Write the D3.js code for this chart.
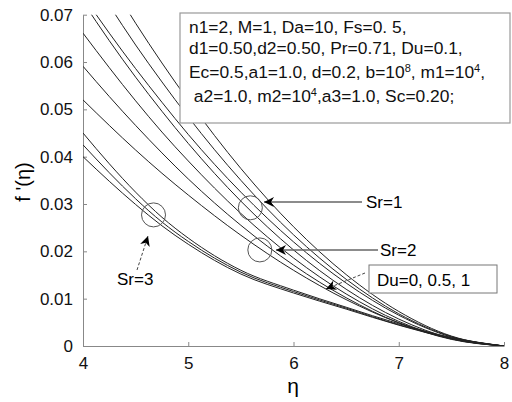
<!DOCTYPE html>
<html><head><meta charset="utf-8">
<script src="https://cdn.jsdelivr.net/npm/d3@7"></script>
<style>
body{margin:0;background:#fff;}
text{font-family:"Liberation Sans",Arial,sans-serif;}
</style></head>
<body><svg id="c" width="512" height="402"></svg>
<script>
// ---- data ----
const etaGrid = [4, 4.25, 4.5, 4.75, 5, 5.5, 6, 6.5, 7, 7.5, 8];
const curveU1 = [0.0865,0.0772,0.0682,0.0598,0.0519,0.0375,0.0252,0.0151,0.0073,0.0021,0];
const curveU2 = [0.0807,0.0720,0.0636,0.0558,0.0484,0.0350,0.0235,0.0141,0.0068,0.0020,0];
const curveU3 = [0.0740,0.0661,0.0586,0.0515,0.0447,0.0325,0.0220,0.0133,0.0065,0.0019,0];
const curveU4 = [0.0727,0.0645,0.0568,0.0496,0.0428,0.0306,0.0203,0.0120,0.0057,0.0016,0];
const curveU5 = [0.0661,0.0588,0.0518,0.0452,0.0391,0.0280,0.0186,0.0110,0.0052,0.0015,0];
const curveU6 = [0.0591,0.0527,0.0466,0.0408,0.0353,0.0255,0.0171,0.0102,0.0049,0.0014,0];
const curveU7 = [0.0520,0.0466,0.0414,0.0365,0.0319,0.0234,0.0160,0.0098,0.0049,0.0015,0];
const curveS3a = [0.0450,0.0385,0.0325,0.0272,0.0228,0.0160,0.0118,0.0082,0.0047,0.0018,0];
const curveS3b = [0.0425,0.0366,0.0311,0.0262,0.0221,0.0156,0.0115,0.0080,0.0045,0.0017,0];
const curveS3c = [0.0400,0.0348,0.0299,0.0254,0.0215,0.0152,0.0112,0.0078,0.0044,0.0016,0];
const allCurves = [curveU1,curveU2,curveU3,curveU4,curveU5,curveU6,curveU7,curveS3a,curveS3b,curveS3c];
const xTicks = [4,5,6,7,8];
const yTicks = [0,0.01,0.02,0.03,0.04,0.05,0.06,0.07];
const yTickLabels = ["0","0.01","0.02","0.03","0.04","0.05","0.06","0.07"];
const srCircles = [{eta:5.59,f:0.0292},{eta:5.68,f:0.0203},{eta:4.67,f:0.0277}];
const infoLines = [
  "n1=2, M=1, Da=10, Fs=0. 5,",
  "d1=0.50,d2=0.50, Pr=0.71, Du=0.1,",
  "Ec=0.5,a1=1.0, d=0.2, b=10^8^, m1=10^4^,",
  " a2=1.0, m2=10^4^,a3=1.0, Sc=0.20;"
];

// ---- drawing ----
const FONT = "Liberation Sans, Arial, sans-serif";
const svg = d3.select("#c");
const x = d3.scaleLinear().domain([4,8]).range([83,504]);
const y = d3.scaleLinear().domain([0,0.07]).range([346,14.7]);

const defs = svg.append("defs");
defs.append("clipPath").attr("id","clip")
  .append("rect").attr("x",83).attr("y",14.7).attr("width",421).attr("height",331.3);
const mk = defs.append("marker").attr("id","ah").attr("viewBox","0 0 10 10")
  .attr("refX",10).attr("refY",5).attr("markerWidth",17).attr("markerHeight",10)
  .attr("markerUnits","userSpaceOnUse").attr("orient","auto");
mk.append("path").attr("d","M0,0 L10,5 L0,10 L3,5 Z").attr("fill","#000");

// axes
const xAxis = d3.axisBottom(x).tickValues(xTicks).tickSizeInner(-4).tickSizeOuter(0).tickPadding(11).tickFormat(d3.format("d"));
const yAxis = d3.axisLeft(y).tickValues(yTicks).tickSizeInner(-4).tickSizeOuter(0).tickPadding(10)
  .tickFormat((d,i)=>yTickLabels[i]);
const gx = svg.append("g").attr("transform","translate(0,346)").call(xAxis);
const gy = svg.append("g").attr("transform","translate(83,0)").call(yAxis);
[gx,gy].forEach(g=>{
  g.select(".domain").attr("stroke","#888");
  g.selectAll(".tick line").attr("stroke","#888");
  g.selectAll(".tick text").attr("font-size",17).attr("fill","#111").attr("font-family",FONT);
});

// curves
const line = d3.line().x((d,i)=>x(etaGrid[i])).y(d=>y(d)).curve(d3.curveMonotoneX);
svg.append("g").attr("clip-path","url(#clip)").selectAll("path").data(allCurves).join("path")
  .attr("d",line).attr("fill","none").attr("stroke","#222").attr("stroke-width",1);

// circles
svg.selectAll("circle.sr").data(srCircles).join("circle").attr("class","sr")
  .attr("cx",d=>x(d.eta)).attr("cy",d=>y(d.f)).attr("r",12)
  .attr("fill","none").attr("stroke","#555").attr("stroke-width",1);

// info box
svg.append("rect").attr("x",180).attr("y",13).attr("width",330).attr("height",110)
  .attr("fill","#fff").attr("stroke","#999").attr("stroke-width",1.2);
const baselines = [33,54,78,102];
infoLines.forEach((s,i)=>{
  const t = svg.append("text").attr("x",189).attr("y",baselines[i]).attr("font-size",17.4)
    .attr("fill","#111").attr("xml:space","preserve");
  let restore = false;
  s.split(/\^(\d)\^/).forEach((part,j)=>{
    if(j%2===0){
      const ts = t.append("tspan").text(part);
      if(restore){ ts.attr("dy",6); restore=false; }
    } else {
      t.append("tspan").attr("dy",-6).attr("font-size",11).text(part);
      restore = true;
    }
  });
});

// Sr=1 annotation
svg.append("line").attr("x1",362).attr("y1",202).attr("x2",264).attr("y2",202)
  .attr("stroke","#666").attr("stroke-width",1.5).attr("marker-end","url(#ah)");
svg.append("text").attr("x",366).attr("y",208).attr("font-size",17).text("Sr=1");
// Sr=2 annotation
svg.append("line").attr("x1",378).attr("y1",250).attr("x2",276).attr("y2",250)
  .attr("stroke","#666").attr("stroke-width",1.5).attr("marker-end","url(#ah)");
svg.append("text").attr("x",380).attr("y",256).attr("font-size",17).text("Sr=2");
// Sr=3 annotation
svg.append("line").attr("x1",137).attr("y1",270).attr("x2",148).attr("y2",236)
  .attr("stroke","#444").attr("stroke-width",1).attr("stroke-dasharray","3,2").attr("marker-end","url(#ah)");
svg.append("text").attr("x",117).attr("y",285).attr("font-size",17).text("Sr=3");
// Du box
svg.append("rect").attr("x",369).attr("y",265).attr("width",128).attr("height",28)
  .attr("fill","#fff").attr("stroke","#777").attr("stroke-width",1);
svg.append("text").attr("x",377).attr("y",286).attr("font-size",17).text("Du=0, 0.5, 1");
svg.append("line").attr("x1",365).attr("y1",273).attr("x2",326).attr("y2",289)
  .attr("stroke","#444").attr("stroke-width",1).attr("stroke-dasharray","3,2").attr("marker-end","url(#ah)");

// axis labels
svg.append("text").attr("x",293).attr("y",393).attr("text-anchor","middle").attr("font-size",21).text("η");
svg.append("text").attr("transform","translate(30,182) rotate(-90)").attr("text-anchor","middle").attr("font-size",20).text("f '(η)");
</script></body></html>
